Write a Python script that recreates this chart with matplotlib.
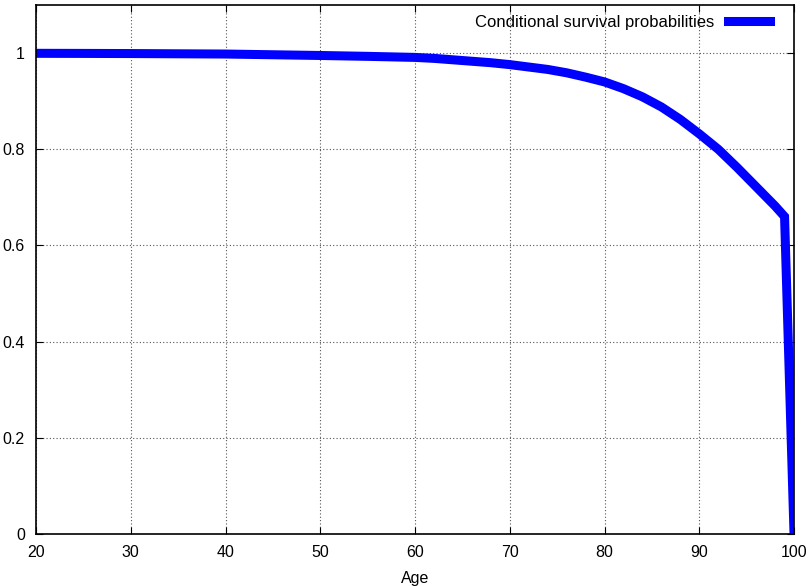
import numpy as np
import matplotlib
matplotlib.use("Agg")
import matplotlib.pyplot as plt

plt.rcParams['font.family'] = ['Liberation Sans', 'DejaVu Sans']

# conditional survival probabilities
ages = [20, 25, 30, 35, 40, 45, 50, 55, 60, 62, 64, 66, 68, 70, 72, 74, 76, 78, 80,
        82, 84, 86, 88, 90, 92, 94, 96, 98, 99, 100]
surv = [0.9995, 0.9993, 0.999, 0.9985, 0.998, 0.9965, 0.995, 0.9932, 0.991, 0.989,
        0.986, 0.983, 0.980, 0.976, 0.971, 0.966, 0.959, 0.950, 0.940, 0.926, 0.909,
        0.888, 0.862, 0.832, 0.800, 0.762, 0.722, 0.682, 0.66, 0.0]

xticks = [20, 30, 40, 50, 60, 70, 80, 90, 100]
yticks = [0, 0.2, 0.4, 0.6, 0.8, 1]
ylabels = ['0', '0.2', '0.4', '0.6', '0.8', '1']

fig = plt.figure(figsize=(8.09, 5.86), dpi=100)
ax = fig.add_axes([0.0445, 0.0887, 0.937, 0.9028])

ax.plot(ages, surv, color='#0000ff', lw=6.5, solid_joinstyle='miter',
        label='Conditional survival probabilities')

ax.set_xlim(20, 100)
ax.set_ylim(0, 1.1)
ax.set_xticks(xticks)
ax.set_yticks(yticks)
ax.set_yticklabels(ylabels)
ax.tick_params(direction='in', top=True, right=True, length=5, labelsize=11.5)
ax.tick_params(axis='x', pad=8)
ax.tick_params(axis='y', pad=8)
ax.grid(True, color='#555555', linestyle=(0, (1, 2)), lw=0.8)
ax.set_xlabel('Age', fontsize=11.5, labelpad=8)

for s in ax.spines.values():
    s.set_linewidth(1.2)

ax.legend(loc='upper right', frameon=False, markerfirst=False, fontsize=12,
          handlelength=2.5, handletextpad=0.8, borderaxespad=0.2,
          bbox_to_anchor=(0.981, 1.0))

fig.savefig('out.png', dpi=100)
